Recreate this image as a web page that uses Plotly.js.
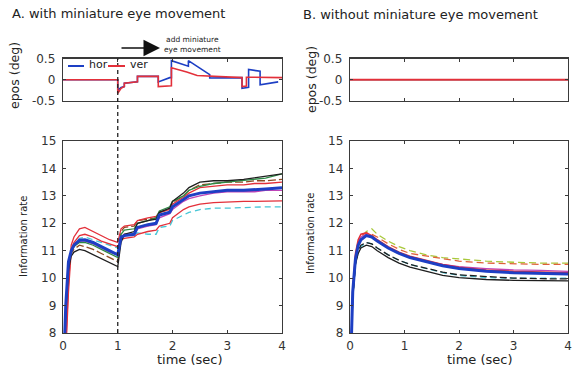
<!DOCTYPE html>
<html>
<head>
<meta charset="utf-8">
<script src="https://cdn.plot.ly/plotly-3.0.1.min.js"></script>
<style>html,body{margin:0;padding:0;background:#fff;}#plot{width:572px;height:372px;}</style>
</head>
<body>
<div id="plot"></div>
<script>
// ---------- Panel A: eye position (deg) ----------
const horT = [0, 1.0, 1.0, 1.06, 1.12, 1.12, 1.36, 1.36, 1.74, 1.74, 1.95, 1.98, 1.98, 2.29, 2.29, 2.68, 2.68, 3.27, 3.27, 3.39, 3.39, 3.6, 3.6, 3.93];
const horV = [0, 0, -0.25, -0.18, -0.16, -0.08, -0.05, 0.08, 0.08, -0.05, 0.05, 0.05, 0.45, 0.32, 0.45, 0.12, 0.04, 0.05, -0.2, -0.18, 0.24, 0.2, -0.12, -0.05];
const verT = [0, 1.0, 1.0, 1.06, 1.12, 1.12, 1.36, 1.36, 1.74, 1.74, 1.98, 1.98, 2.26, 2.45, 3.27, 3.27, 3.35, 3.35, 4.0];
const verV = [0, 0, -0.32, -0.2, -0.16, -0.08, -0.05, 0.08, 0.08, -0.16, -0.14, 0.28, 0.18, 0.1, 0.05, -0.16, -0.15, 0.06, 0.05];
// ---------- Panel B: eye position (deg) ----------
const horTB = [0, 4];
const horVB = [0, 0];
const verTB = [0, 4];
const verVB = [0, 0];

// ---------- Panel A: information rate ----------
const tA = [0, 0.05, 0.1, 0.15, 0.2, 0.3, 0.4, 0.55, 0.7, 0.85, 1.0, 1.06, 1.12, 1.3, 1.36, 1.55, 1.7, 1.76, 1.95, 2.0, 2.2, 2.3, 2.5, 2.75, 3.0, 3.3, 3.5, 3.7, 4.0];
const aBlue    = [6, 9.0, 10.6, 11.0, 11.2, 11.38, 11.4, 11.3, 11.15, 11.0, 10.85, 11.5, 11.55, 11.6, 11.85, 11.95, 12.0, 12.3, 12.4, 12.6, 12.85, 13.0, 13.1, 13.15, 13.2, 13.2, 13.22, 13.25, 13.3];
const aBlack   = [6, 8.8, 10.3, 10.8, 10.95, 11.05, 11.0, 10.85, 10.7, 10.55, 10.42, 11.3, 11.6, 11.7, 12.0, 12.1, 12.15, 12.4, 12.55, 12.8, 13.1, 13.3, 13.5, 13.55, 13.55, 13.6, 13.65, 13.7, 13.8];
const aRedHi   = [6, 7.5, 9.8, 11.2, 11.5, 11.8, 11.85, 11.7, 11.55, 11.4, 11.3, 11.8, 11.9, 11.95, 12.1, 12.2, 12.25, 12.4, 12.5, 12.7, 12.95, 13.1, 13.3, 13.35, 13.4, 13.4, 13.45, 13.45, 13.5];
const aRedLo   = [6, 7.2, 9.5, 11.0, 11.3, 11.55, 11.6, 11.5, 11.35, 11.25, 11.15, 11.4, 11.45, 11.5, 11.6, 11.7, 11.75, 11.9, 12.0, 12.2, 12.5, 12.6, 12.7, 12.75, 12.78, 12.8, 12.8, 12.8, 12.82];
const aCyan    = [6, 8.5, 10.5, 11.0, 11.2, 11.45, 11.5, 11.4, 11.3, 11.2, 11.1, 11.55, 11.6, 11.6, 11.65, 11.6, 11.6, 11.85, 11.9, 12.1, 12.3, 12.4, 12.5, 12.55, 12.55, 12.58, 12.6, 12.6, 12.6];
const aGreen   = [6, 8.7, 10.5, 10.95, 11.15, 11.3, 11.3, 11.2, 11.05, 10.9, 10.75, 11.6, 11.75, 11.8, 12.0, 12.1, 12.2, 12.45, 12.6, 12.8, 13.0, 13.2, 13.35, 13.45, 13.5, 13.55, 13.6, 13.65, 13.8];
const aBrown   = [6, 8.6, 10.4, 10.9, 11.05, 11.2, 11.15, 11.05, 10.9, 10.75, 10.6, 11.7, 11.85, 11.9, 12.1, 12.15, 12.2, 12.4, 12.5, 12.75, 13.0, 13.2, 13.4, 13.45, 13.5, 13.5, 13.55, 13.55, 13.6];
const aMagenta = [6, 8.8, 10.6, 11.0, 11.2, 11.35, 11.35, 11.25, 11.1, 10.95, 10.85, 11.5, 11.6, 11.6, 11.8, 11.9, 11.95, 12.2, 12.35, 12.5, 12.8, 12.9, 13.0, 13.1, 13.15, 13.15, 13.15, 13.2, 13.2];

// ---------- Panel B: information rate ----------
const tB = [0, 0.02, 0.05, 0.1, 0.15, 0.2, 0.3, 0.4, 0.5, 0.7, 0.9, 1.1, 1.4, 1.7, 2.0, 2.5, 3.0, 3.5, 4.0];
const bBlue    = [6, 7.5, 9.5, 10.7, 11.2, 11.4, 11.55, 11.5, 11.35, 11.1, 10.9, 10.75, 10.6, 10.45, 10.35, 10.25, 10.2, 10.18, 10.15];
const bBlack   = [6, 7.4, 9.3, 10.5, 10.9, 11.1, 11.2, 11.15, 11.0, 10.75, 10.55, 10.4, 10.25, 10.1, 10.02, 9.95, 9.92, 9.9, 9.9];
const bRed     = [6, 7.5, 9.6, 10.9, 11.4, 11.6, 11.65, 11.55, 11.4, 11.15, 10.95, 10.8, 10.65, 10.5, 10.4, 10.3, 10.25, 10.22, 10.2];
const bGreen   = [6, 7.3, 9.2, 10.6, 11.2, 11.5, 11.7, 11.8, 11.6, 11.35, 11.15, 11.0, 10.85, 10.75, 10.7, 10.62, 10.58, 10.55, 10.55];
const bOrange  = [6, 7.4, 9.4, 10.7, 11.3, 11.55, 11.65, 11.6, 11.5, 11.25, 11.05, 10.9, 10.8, 10.7, 10.62, 10.55, 10.52, 10.5, 10.5];
const bCyan    = [6, 7.4, 9.3, 10.5, 10.95, 11.15, 11.3, 11.25, 11.1, 10.85, 10.65, 10.5, 10.35, 10.2, 10.1, 10.02, 10.0, 10.0, 10.0];
const bMagenta = [6, 7.5, 9.5, 10.8, 11.3, 11.5, 11.6, 11.5, 11.35, 11.1, 10.9, 10.75, 10.6, 10.5, 10.42, 10.35, 10.3, 10.28, 10.25];
const bBlack2  = [6, 7.4, 9.3, 10.55, 11.0, 11.2, 11.3, 11.25, 11.1, 10.85, 10.65, 10.5, 10.35, 10.22, 10.12, 10.05, 10.0, 9.98, 9.97];

// ---------- ticks and labels ----------
const eposTickVals = [-0.5, 0, 0.5];
const eposTickText = ['-0.5', '0', '0.5'];
const rateTickVals = [8, 9, 10, 11, 12, 13, 14, 15];
const timeTickVals = [0, 1, 2, 3, 4];
const titleA = 'A. with miniature eye movement';
const titleB = 'B. without miniature eye movement';
const noteText = 'add miniature<br>eye movement';
const legendNames = ['hor', 'ver'];

const C = {
  blue: '#1d3fc4', red: '#e3303a', black: '#1e1e1e', cyan: '#45c6d6',
  green: '#2d8a45', brown: '#8c4a22', magenta: '#bf45b8', orange: '#e0603a',
  yellowgreen: '#a8c83a'
};
const FONT = 'DejaVu Sans, Arial, sans-serif';

function line(x, y, xa, ya, color, width, dash) {
  return {x: x, y: y, xaxis: xa, yaxis: ya, type: 'scatter', mode: 'lines',
          line: {color: color, width: width, dash: dash || 'solid'}, hoverinfo: 'skip', showlegend: false};
}

const data = [
  // top-left eye position
  line(horT, horV, 'x', 'y', C.blue, 1.6),
  line(verT, verV, 'x', 'y', C.red, 1.6),
  // top-right
  line(horTB, horVB, 'x3', 'y3', C.cyan, 1.6),
  line(verTB, verVB, 'x3', 'y3', C.red, 2),
  // bottom-left
  line(tA, aCyan, 'x2', 'y2', C.cyan, 1.3, '6px,4px'),
  line(tA, aRedLo, 'x2', 'y2', C.red, 1.3),
  line(tA, aMagenta, 'x2', 'y2', C.magenta, 1.3),
  line(tA, aBrown, 'x2', 'y2', C.brown, 1.3, '8px,3px'),
  line(tA, aRedHi, 'x2', 'y2', C.red, 1.3),
  line(tA, aGreen, 'x2', 'y2', C.green, 1.3),
  line(tA, aBlack, 'x2', 'y2', C.black, 1.3),
  line(tA, aBlue, 'x2', 'y2', C.blue, 3),
  // bottom-right
  line(tB, bGreen, 'x4', 'y4', C.yellowgreen, 1.3, '7px,4px'),
  line(tB, bOrange, 'x4', 'y4', C.orange, 1.3, '7px,4px'),
  line(tB, bCyan, 'x4', 'y4', C.cyan, 1.3, '6px,4px'),
  line(tB, bBlack2, 'x4', 'y4', C.black, 1.3, '7px,3px'),
  line(tB, bBlack, 'x4', 'y4', C.black, 1.3),
  line(tB, bMagenta, 'x4', 'y4', C.magenta, 1.3),
  line(tB, bRed, 'x4', 'y4', C.red, 1.5),
  line(tB, bBlue, 'x4', 'y4', C.blue, 3)
];

const W = 572, H = 372;
const px = v => v / W;
const py = v => 1 - v / H;

const axBase = {
  showline: true, mirror: 'ticks', linecolor: '#3a3a3a', linewidth: 1.3,
  ticks: 'inside', ticklen: 3, tickcolor: '#3a3a3a', tickwidth: 1,
  showgrid: false, zeroline: false, fixedrange: true,
  ticklabeloverflow: 'allow',
  tickfont: {family: FONT, size: 12, color: '#333'}
};
const xTop = Object.assign({}, axBase, {range: [0, 4], tickvals: [1, 2, 3], showticklabels: false});
const yTop = Object.assign({}, axBase, {range: [-0.5, 0.5], tickvals: eposTickVals, ticktext: eposTickText, ticklabelstandoff: 4});
const xBot = Object.assign({}, axBase, {range: [0, 4], tickvals: timeTickVals, ticklabelstandoff: 1});
const yBot = Object.assign({}, axBase, {range: [8, 15], tickvals: rateTickVals, ticklabelstandoff: 3});

const dL = [px(63), px(282)], dR = [px(350), px(568)];
const dT = [py(101), py(58.5)], dB = [py(333), py(141)];

const ann = (x, y, text, size, opts) => Object.assign({
  xref: 'paper', yref: 'paper', x: x, y: y, text: text, showarrow: false,
  font: {family: FONT, size: size, color: '#222'}
}, opts || {});

const layout = {
  width: W, height: H,
  margin: {l: 0, r: 0, t: 0, b: 0},
  paper_bgcolor: '#fff', plot_bgcolor: '#fff',
  showlegend: false,
  xaxis: Object.assign({}, xTop, {domain: dL, anchor: 'y'}),
  yaxis: Object.assign({}, yTop, {domain: dT, anchor: 'x'}),
  xaxis2: Object.assign({}, xBot, {domain: dL, anchor: 'y2'}),
  yaxis2: Object.assign({}, yBot, {domain: dB, anchor: 'x2'}),
  xaxis3: Object.assign({}, xTop, {domain: dR, anchor: 'y3'}),
  yaxis3: Object.assign({}, yTop, {domain: dT, anchor: 'x3'}),
  xaxis4: Object.assign({}, xBot, {domain: dR, anchor: 'y4'}),
  yaxis4: Object.assign({}, yBot, {domain: dB, anchor: 'x4'}),
  shapes: [
    {type: 'line', xref: 'x2', yref: 'paper', x0: 1, x1: 1, y0: py(333), y1: py(58.5),
     line: {color: '#222', width: 1.3, dash: '4px,3px'}},
    {type: 'line', xref: 'paper', yref: 'paper', x0: px(68), x1: px(84), y0: py(66), y1: py(66),
     line: {color: C.blue, width: 2}},
    {type: 'line', xref: 'paper', yref: 'paper', x0: px(108), x1: px(125), y0: py(66), y1: py(66),
     line: {color: C.red, width: 2}}
  ],
  annotations: [
    ann(px(10), py(14), titleA, 13, {xanchor: 'left', yanchor: 'middle'}),
    ann(px(301), py(15), titleB, 13, {xanchor: 'left', yanchor: 'middle'}),
    ann(px(14), py(76), 'epos (deg)', 12.5, {textangle: -90, xanchor: 'center', yanchor: 'middle'}),
    ann(px(311), py(80), 'epos (deg)', 12.5, {textangle: -90, xanchor: 'center', yanchor: 'middle'}),
    ann(px(23), py(237), 'Information rate', 10, {textangle: -90, xanchor: 'center', yanchor: 'middle'}),
    ann(px(310), py(234), 'Information rate', 10, {textangle: -90, xanchor: 'center', yanchor: 'middle'}),
    ann(px(190), py(359), 'time (sec)', 13, {xanchor: 'center', yanchor: 'middle'}),
    ann(px(480), py(359), 'time (sec)', 13, {xanchor: 'center', yanchor: 'middle'}),
    ann(px(87), py(64), legendNames[0], 11, {xanchor: 'left', yanchor: 'middle'}),
    ann(px(128), py(64), legendNames[1], 11, {xanchor: 'left', yanchor: 'middle'}),
    ann(px(192), py(44.5), noteText, 7.5, {xanchor: 'center', yanchor: 'middle'}),
    {xref: 'paper', yref: 'paper', x: px(160), y: py(48), ax: -40, ay: 0, text: '',
     showarrow: true, arrowhead: 2, arrowsize: 2.2, arrowwidth: 1.5, arrowcolor: '#111'}
  ]
};

Plotly.newPlot('plot', data, layout, {staticPlot: true, displayModeBar: false});
</script>
</body>
</html>
